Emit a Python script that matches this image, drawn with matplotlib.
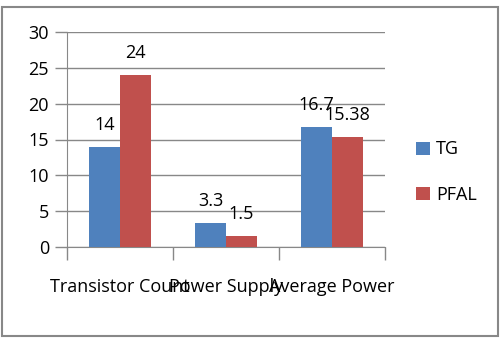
import matplotlib
matplotlib.use("Agg")
import matplotlib.pyplot as plt
from matplotlib.patches import Rectangle
import numpy as np

categories = ["Transistor Count", "Power Supply", "Average Power"]
tg = [14, 3.3, 16.7]
pfal = [24, 1.5, 15.38]
tg_labels = ["14", "3.3", "16.7"]
pfal_labels = ["24", "1.5", "15.38"]
yticks = [0, 5, 10, 15, 20, 25, 30]

plt.rcParams['font.family'] = ['Open Sans', 'DejaVu Sans']
FS = 13
W, H = 503, 353
fig = plt.figure(figsize=(W/100, H/100), dpi=100)
fig.patches.append(Rectangle((2/W, 1-336/H), 496/W, 329/H, transform=fig.transFigure,
                             fill=False, edgecolor='#888888', lw=1.5))

x0, x1, ytop, ybot = 67, 385, 32, 247
ax = fig.add_axes([x0/W, 1-ybot/H, (x1-x0)/W, (ybot-ytop)/H])
x = np.arange(len(categories))
bw = 0.29
blue, red = '#4F81BD', '#C0504D'
ax.bar(x - bw/2, tg, bw, color=blue, label='TG', zorder=3)
ax.bar(x + bw/2, pfal, bw, color=red, label='PFAL', zorder=3)
for xi, v, s in zip(x, tg, tg_labels):
    ax.annotate(s, (xi - bw/2, v), xytext=(0, 22), textcoords='offset pixels',
                ha='center', va='center', fontsize=FS)
for xi, v, s in zip(x, pfal, pfal_labels):
    ax.annotate(s, (xi + bw/2, v), xytext=(0, 22), textcoords='offset pixels',
                ha='center', va='center', fontsize=FS)

ax.set_xlim(-0.5, 2.5)
ax.set_ylim(0, 30)
ax.set_yticks(yticks)
ax.set_yticklabels([str(t) for t in yticks], fontsize=FS)
ax.grid(axis='y', color='#888888', lw=1, zorder=0)
ax.set_xticks([-0.5, 0.5, 1.5, 2.5])
ax.set_xticklabels([])
ax.set_xticks(x, minor=True)
ax.set_xticklabels(categories, minor=True, fontsize=FS)
ax.tick_params(axis='x', which='major', length=9, color='#888888', width=1)
ax.tick_params(axis='x', which='minor', length=0, pad=22)
ax.tick_params(axis='y', length=9, color='#888888', width=1, pad=4)
for s in ['top', 'right']:
    ax.spines[s].set_visible(False)
for s in ['left', 'bottom']:
    ax.spines[s].set_color('#888888')

ax.legend(loc='center left', bbox_to_anchor=(400/W, 1-172/H), bbox_transform=fig.transFigure,
          frameon=False, fontsize=FS, handlelength=0.75, handleheight=0.75,
          handletextpad=0.35, labelspacing=1.5)

fig.savefig("out.png", dpi=100)
